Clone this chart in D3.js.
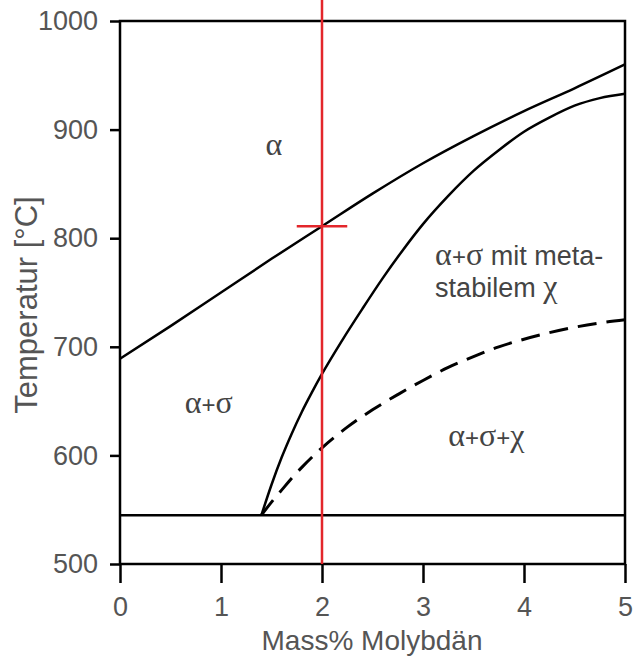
<!DOCTYPE html>
<html>
<head>
<meta charset="utf-8">
<script src="https://cdn.jsdelivr.net/npm/d3@7"></script>
<style>
  body { margin: 0; background: #fff; }
  svg { display: block; }
  .tick text { font-family: "Liberation Sans", Arial, sans-serif; font-size: 27px; fill: #555; }
  .tick line { stroke: #000; stroke-width: 2.5; }
  .axis-title { font-family: "Liberation Sans", Arial, sans-serif; fill: #555; }
  .region { font-family: "Liberation Sans", Arial, sans-serif; font-size: 27px; fill: #444; }
  .greek { font-family: "Liberation Serif", "Times New Roman", serif; font-size: 32px; }
</style>
</head>
<body>
<div id="chart"></div>
<script>
// Grenzlinien (Masse-% Mo, Temperatur in °C)
const upperX = [0, 0.5, 1, 1.5, 2, 2.5, 3, 3.5, 4, 4.5, 5];
const upperT = [689, 719, 750, 781, 811, 841, 869, 894, 917, 938, 960];

const solvusX = [1.4, 1.5, 1.6, 1.7, 1.8, 1.9, 2.0, 2.2, 2.4, 2.6, 2.8, 3.0, 3.25, 3.5, 3.75, 4.0, 4.25, 4.5, 4.75, 5.0];
const solvusT = [545, 573, 598, 620, 640, 658, 675, 706, 735, 763, 789, 813, 839, 862, 881, 898, 911, 922, 929, 933];

const chiX = [1.4, 1.5, 1.6, 1.7, 1.8, 2.0, 2.25, 2.5, 2.75, 3.0, 3.25, 3.5, 3.75, 4.0, 4.25, 4.5, 4.75, 5.0];
const chiT = [545, 557, 568, 579, 589, 607, 626, 642, 656, 669, 681, 691, 700, 707, 713, 718, 722, 725];

const eutectoidT = 545;

// Markierung bei 2 % Mo
const markerX = 2;
const markerT = 811;
const markerHalfWidth = 0.25;

const xTicks = [0, 1, 2, 3, 4, 5];
const yTicks = [500, 600, 700, 800, 900, 1000];

const regionNames = [
  [["α", "g"]],
  [["α", "g"], ["+", "s"], ["σ", "g"], [" mit meta-", "s"]],
  [["stabilem ", "s"], ["χ", "g"]],
  [["α", "g"], ["+", "s"], ["σ", "g"]],
  [["α", "g"], ["+", "s"], ["σ", "g"], ["+", "s"], ["χ", "g"]]
];
const regionX = [1.44, 3.12, 3.12, 0.64, 3.25];
const regionT = [877, 775, 746, 639, 609];

const width = 633, height = 662;
const margin = { top: 21, right: 8, bottom: 98, left: 120 };

const svg = d3.select("#chart").append("svg")
  .attr("width", width)
  .attr("height", height);

const x = d3.scaleLinear().domain([0, 5]).range([margin.left, width - margin.right]);
const y = d3.scaleLinear().domain([500, 1000]).range([height - margin.bottom, margin.top]);

const line = d3.line().x(d => x(d[0])).y(d => y(d[1])).curve(d3.curveMonotoneX);

// Achsen
svg.append("g")
  .attr("transform", `translate(0,${y(500)})`)
  .call(d3.axisBottom(x).tickValues(xTicks).tickFormat(d3.format("d")).tickSize(19).tickSizeOuter(0).tickPadding(14))
  .call(g => g.select(".domain").remove());

svg.append("g")
  .attr("transform", `translate(${x(0)},0)`)
  .call(d3.axisLeft(y).tickValues(yTicks).tickFormat(d3.format("d")).tickSize(10).tickSizeOuter(0).tickPadding(12))
  .call(g => g.select(".domain").remove());

// Eutektoide Linie
svg.append("line")
  .attr("x1", x(0)).attr("x2", x(5))
  .attr("y1", y(eutectoidT)).attr("y2", y(eutectoidT))
  .attr("stroke", "#000").attr("stroke-width", 2.5);

// Kurven
svg.append("path")
  .datum(d3.zip(upperX, upperT))
  .attr("d", line)
  .attr("fill", "none").attr("stroke", "#000").attr("stroke-width", 2.5);

svg.append("path")
  .datum(d3.zip(solvusX, solvusT))
  .attr("d", line)
  .attr("fill", "none").attr("stroke", "#000").attr("stroke-width", 2.5);

svg.append("path")
  .datum(d3.zip(chiX, chiT))
  .attr("d", line)
  .attr("fill", "none").attr("stroke", "#000").attr("stroke-width", 3)
  .attr("stroke-dasharray", "19,10");

// Rahmen
svg.append("rect")
  .attr("x", x(0)).attr("y", y(1000))
  .attr("width", x(5) - x(0)).attr("height", y(500) - y(1000))
  .attr("fill", "none").attr("stroke", "#000").attr("stroke-width", 2.5);

// rote Markierung
svg.append("line")
  .attr("x1", x(markerX)).attr("x2", x(markerX))
  .attr("y1", 0).attr("y2", y(500))
  .attr("stroke", "#e3262b").attr("stroke-width", 2.5);

svg.append("line")
  .attr("x1", x(markerX - markerHalfWidth)).attr("x2", x(markerX + markerHalfWidth))
  .attr("y1", y(markerT)).attr("y2", y(markerT))
  .attr("stroke", "#e3262b").attr("stroke-width", 2.5);

// Phasenbezeichnungen
regionNames.forEach((parts, i) => {
  const t = svg.append("text")
    .attr("class", "region")
    .attr("x", x(regionX[i]))
    .attr("y", y(regionT[i]));
  parts.forEach(([s, kind]) => {
    t.append("tspan")
      .attr("class", kind === "g" ? "greek" : null)
      .style("font-size", s === "+" ? "24px" : null)
      .text(s);
  });
});

// Achsentitel
svg.append("text")
  .attr("class", "axis-title")
  .attr("x", 372).attr("y", 650)
  .attr("text-anchor", "middle")
  .style("font-size", "28px")
  .text("Mass% Molybdän");

svg.append("text")
  .attr("class", "axis-title")
  .attr("transform", "translate(37,305) rotate(-90)")
  .attr("text-anchor", "middle")
  .style("font-size", "31px")
  .text("Temperatur [°C]");
</script>
</body>
</html>
